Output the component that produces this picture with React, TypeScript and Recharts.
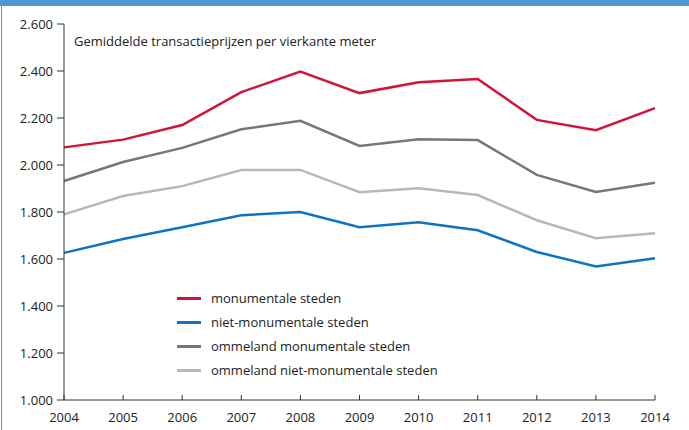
import React from 'react';
import { LineChart, Line, XAxis, YAxis } from 'recharts';

const years = ['2004', '2005', '2006', '2007', '2008', '2009', '2010', '2011', '2012', '2013', '2014'];
const monumentaal = [2075, 2108, 2170, 2310, 2398, 2306, 2352, 2366, 2192, 2148, 2242];
const nietMonumentaal = [1626, 1685, 1735, 1786, 1800, 1735, 1756, 1722, 1630, 1568, 1603];
const ommelandMonumentaal = [1932, 2013, 2073, 2152, 2188, 2081, 2110, 2106, 1958, 1885, 1924];
const ommelandNietMonumentaal = [1790, 1868, 1910, 1979, 1979, 1884, 1901, 1872, 1765, 1688, 1710];
const yTicks = [1000, 1200, 1400, 1600, 1800, 2000, 2200, 2400, 2600];

const series = [
  { key: 'mon', name: 'monumentale steden', color: '#d3143a' },
  { key: 'niet', name: 'niet-monumentale steden', color: '#0d74c4' },
  { key: 'omMon', name: 'ommeland monumentale steden', color: '#77777a' },
  { key: 'omNiet', name: 'ommeland niet-monumentale steden', color: '#b8b8ba' },
];

const data = years.map((year, i) => ({
  year,
  mon: monumentaal[i],
  niet: nietMonumentaal[i],
  omMon: ommelandMonumentaal[i],
  omNiet: ommelandNietMonumentaal[i],
}));

const FONT = '"Open Sans", "Noto Sans", sans-serif';
const fmt = (v: number) => v.toLocaleString('nl-NL');

const TICK_GAP = 10;

// x-as: streepjes naar binnen (omhoog), label eronder
const YearTick: React.FC<any> = ({ x, y, payload }) => {
  const axisY = y - TICK_GAP;
  return (
    <g>
      <line x1={x} x2={x} y1={axisY} y2={axisY - 5} stroke="#333" strokeWidth={1} />
      <text x={x} y={y} dy={12} textAnchor="middle" fill="#222" fontSize={13} fontFamily={FONT}>
        {payload.value}
      </text>
    </g>
  );
};

const LegendBox: React.FC = () => (
  <div style={{ position: 'absolute', left: 177, top: 286, fontFamily: FONT, fontSize: 13, color: '#222' }}>
    {series.map(s => (
      <div key={s.key} style={{ display: 'flex', alignItems: 'center', height: 24 }}>
        <span style={{ display: 'inline-block', width: 24, height: 3, background: s.color, marginRight: 10 }} />
        <span>{s.name}</span>
      </div>
    ))}
  </div>
);

export default function App() {
  return (
    <div style={{ position: 'fixed', top: 0, left: 0, width: 689, height: 430, background: '#fff', overflow: 'hidden' }}>
      <div style={{ position: 'absolute', top: 0, left: 0, width: 689, height: 6, background: '#5196d3' }} />
      <div style={{ position: 'absolute', top: 6, left: 1, width: 1, height: 424, background: '#8a8a8a' }} />
      <div style={{ position: 'absolute', top: 32, left: 74, fontFamily: FONT, fontSize: 13, color: '#222' }}>
        Gemiddelde transactieprijzen per vierkante meter
      </div>
      <LineChart width={689} height={430} data={data} margin={{ top: 24, right: 34, bottom: 0, left: 0 }}>
        <XAxis
          dataKey="year"
          tick={<YearTick />}
          tickLine={{ stroke: 'none' }}
          tickSize={0}
          tickMargin={TICK_GAP}
          axisLine={{ stroke: '#333' }}
          interval={0}
          height={30}
        />
        <YAxis
          domain={[1000, 2600]}
          ticks={yTicks}
          tickFormatter={fmt}
          width={64}
          tickSize={7}
          tickMargin={4}
          axisLine={{ stroke: '#333' }}
          tickLine={{ stroke: '#333' }}
          tick={{ fill: '#222', fontSize: 13, fontFamily: FONT }}
          interval={0}
        />
        {series.map(s => (
          <Line
            key={s.key}
            dataKey={s.key}
            name={s.name}
            stroke={s.color}
            strokeWidth={2.5}
            dot={false}
            activeDot={false}
            isAnimationActive={false}
          />
        ))}
      </LineChart>
      <LegendBox />
    </div>
  );
}
